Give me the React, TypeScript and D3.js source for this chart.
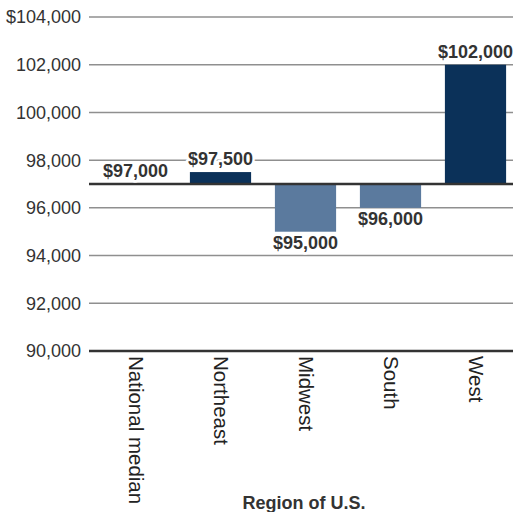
import * as d3 from "d3";

const regions = ["National median", "Northeast", "Midwest", "South", "West"];
const incomes = [97000, 97500, 95000, 96000, 102000];
const nationalMedian = 97000;
const yTicks = [90000, 92000, 94000, 96000, 98000, 100000, 102000, 104000];

const W = 514;
const H = 512;
const left = 89;
const right = 513;
const top = 17;
const bottom = 351;

export default function App() {
  const x = d3.scaleBand<string>().domain(regions).range([93, 518]).paddingInner(0.28).paddingOuter(0.14);
  const y = d3.scaleLinear().domain([90000, 104000]).range([bottom, top]);
  const fmt = d3.format(",");
  const base = y(nationalMedian);
  const font = "'Liberation Sans', Arial, Helvetica, sans-serif";

  return (
    <svg width={W} height={H} style={{ position: "absolute", left: 0, top: 0 }} fontFamily={font}>
      {/* gridlines + y ticks */}
      {yTicks.map((t) => (
        <g key={t}>
          <line x1={left} x2={right} y1={y(t)} y2={y(t)}
            stroke={t === 90000 ? "#333" : "#8f8f8f"} strokeWidth={t === 90000 ? 2.5 : 1.5} />
          <text x={81} y={y(t)} dy="0.36em" textAnchor="end" fontSize={18} fill="#333">
            {(t === 104000 ? "$" : "") + fmt(t)}
          </text>
        </g>
      ))}

      {/* bars */}
      {regions.map((r, i) => {
        const v = incomes[i];
        if (v === nationalMedian) return null;
        const y0 = Math.min(y(v), base);
        const h = Math.abs(y(v) - base);
        return (
          <rect key={r} x={x(r)} y={y0} width={x.bandwidth()} height={h}
            fill={v > nationalMedian ? "#0b3159" : "#5b7a9e"} />
        );
      })}

      {/* baseline at national median */}
      <line x1={left} x2={right} y1={base} y2={base} stroke="#333" strokeWidth={2.5} />

      {/* value labels */}
      {regions.map((r, i) => {
        const v = incomes[i];
        const cx = (x(r) ?? 0) + x.bandwidth() / 2;
        const above = v >= nationalMedian;
        const ty = above ? y(v) - 7 : y(v) + 17;
        return (
          <text key={r} x={cx} y={ty} textAnchor="middle" fontSize={18} fontWeight="bold"
            fill="#333" stroke="#fff" strokeWidth={5} paintOrder="stroke" strokeLinejoin="round">
            {"$" + fmt(v)}
          </text>
        );
      })}

      {/* x labels */}
      {regions.map((r) => {
        const cx = (x(r) ?? 0) + x.bandwidth() / 2;
        return (
          <text key={r} transform={`translate(${cx - 7},${bottom + 5}) rotate(90)`}
            fontSize={20.5} fill="#222">
            {r}
          </text>
        );
      })}

      <text x={304} y={509} textAnchor="middle" fontSize={18} fontWeight="bold" fill="#333">
        Region of U.S.
      </text>
    </svg>
  );
}
